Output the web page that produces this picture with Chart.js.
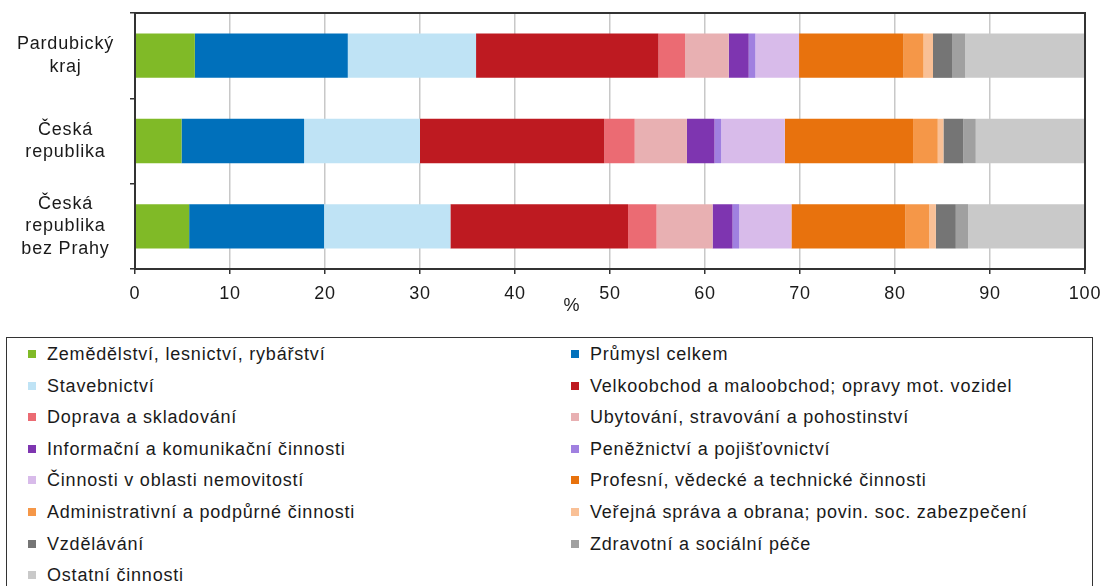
<!DOCTYPE html>
<html>
<head>
<meta charset="utf-8">
<script src="https://cdn.jsdelivr.net/npm/chart.js@4.4.1/dist/chart.umd.min.js"></script>
<style>
    body { margin: 0; background: #fff; width: 1105px; height: 586px; overflow: hidden; position: relative;
           font-family: "Liberation Sans", Arial, sans-serif; }
    #chart { position: absolute; left: 0; top: 0; }
    #legend { position: absolute; left: 6px; top: 337px; width: 1087px; height: 270px;
              border: 1.5px solid #333; box-sizing: border-box; }
    .item { position: absolute; font-size: 18px; letter-spacing: 0.8px; color: #1a1a1a;
            white-space: nowrap; line-height: 20px; }
    .item i { position: absolute; left: -19px; top: 6px; width: 8px; height: 8px; }
</style>
</head>
<body>
<canvas id="chart" width="1105" height="330"></canvas>
<div id="legend"></div>
<script>
// ── DATA ──
const categories = [['Pardubický', 'kraj'], ['Česká', 'republika'], ['Česká', 'republika', 'bez Prahy']];
const sectors = [
    'Zemědělství, lesnictví, rybářství', 'Průmysl celkem',
    'Stavebnictví', 'Velkoobchod a maloobchod; opravy mot. vozidel',
    'Doprava a skladování', 'Ubytování, stravování a pohostinství',
    'Informační a komunikační činnosti', 'Peněžnictví a pojišťovnictví',
    'Činnosti v oblasti nemovitostí', 'Profesní, vědecké a technické činnosti',
    'Administrativní a podpůrné činnosti', 'Veřejná správa a obrana; povin. soc. zabezpečení',
    'Vzdělávání', 'Zdravotní a sociální péče',
    'Ostatní činnosti'
];
const sectorColors = [
    '#80ba27', '#0070bb', '#bfe3f5', '#be1a21', '#eb6b73', '#e8b0b2', '#7e35b0', '#a080e0',
    '#d8bbea', '#e8720d', '#f59748', '#f9c096', '#757575', '#a0a0a0', '#c9c9c9'
];
const pardubickyKraj = [6.3, 16.1, 13.5, 19.2, 2.8, 4.6, 2.1, 0.7, 4.6, 11.0, 2.1, 1.0, 2.0, 1.4, 12.6];
const ceskaRepublika = [4.9, 12.9, 12.2, 19.4, 3.2, 5.5, 2.9, 0.7, 6.7, 13.5, 2.6, 0.6, 2.1, 1.3, 11.5];
const crBezPrahy     = [5.7, 14.2, 13.3, 18.7, 3.0, 5.9, 2.1, 0.7, 5.5, 12.0, 2.5, 0.7, 2.1, 1.3, 12.3];
const xMin = 0, xMax = 100, xStep = 10;
const axisTitle = '%';

const datasets = sectors.map((name, i) => ({
    label: name,
    data: [pardubickyKraj[i], ceskaRepublika[i], crBezPrahy[i]],
    backgroundColor: sectorColors[i],
    borderWidth: 0
}));

Chart.defaults.font.family = '"Liberation Sans", Arial, sans-serif';
Chart.defaults.font.size = 18;
Chart.defaults.color = '#1a1a1a';

// letter spacing is lost whenever the canvas is resized, so set it again
const spacing = {
    id: 'spacing',
    beforeUpdate(c) { c.ctx.letterSpacing = '0.8px'; },
    beforeLayout(c) { c.ctx.letterSpacing = '0.8px'; },
    beforeDraw(c) { c.ctx.letterSpacing = '0.8px'; }
};

// frame round the plot + axis title
const frame = {
    id: 'frame',
    afterDatasetsDraw(c) {
        const a = c.chartArea, ctx = c.ctx;
        ctx.save();
        ctx.strokeStyle = '#333';
        ctx.lineWidth = 2;
        ctx.strokeRect(a.left, a.top, a.right - a.left, a.bottom - a.top);
        ctx.restore();
    },
    afterDraw(c) {
        const ctx = c.ctx;
        ctx.save();
        ctx.fillStyle = '#1a1a1a';
        ctx.font = '18px "Liberation Sans", Arial, sans-serif';
        ctx.textAlign = 'center';
        ctx.textBaseline = 'middle';
        ctx.fillText(axisTitle, c.scales.x.getPixelForValue(46), 306);
        ctx.restore();
    }
};

new Chart(document.getElementById('chart').getContext('2d'), {
    type: 'bar',
    data: { labels: categories, datasets },
    options: {
        indexAxis: 'y',
        responsive: false,
        animation: false,
        layout: { padding: { top: 13, right: 20, left: 0, bottom: 0 } },
        datasets: { bar: { barPercentage: 0.52, categoryPercentage: 1 } },
        plugins: { legend: { display: false }, tooltip: { enabled: false } },
        scales: {
            x: {
                stacked: true, min: xMin, max: xMax,
                ticks: { stepSize: xStep, padding: 9, color: '#1a1a1a' },
                grid: { color: '#c8c8c8', lineWidth: 1.5, tickColor: '#333', tickLength: 5 },
                border: { color: '#333', width: 2 },
                afterFit(s) { s.height = 61; s.paddingLeft = 0; s.paddingRight = 0; }
            },
            y: {
                stacked: true,
                ticks: { crossAlign: 'center', padding: 16, color: '#1a1a1a', font: { lineHeight: 1.25 } },
                grid: { drawOnChartArea: false, tickColor: '#333', tickLength: 5, lineWidth: 1.5 },
                border: { color: '#333', width: 2 },
                afterFit(s) { s.width = 135; s.paddingTop = 0; s.paddingBottom = 0; }
            }
        }
    },
    plugins: [spacing, frame]
});

// ── LEGEND (two columns, row by row) ──
const legend = document.getElementById('legend');
sectors.forEach((name, i) => {
    const el = document.createElement('div');
    el.className = 'item';
    el.style.left = (i % 2 ? 583 : 40) + 'px';
    el.style.top = (6 + Math.floor(i / 2) * 31.6) + 'px';
    el.innerHTML = '<i style="background:' + sectorColors[i] + '"></i>' + name;
    legend.appendChild(el);
});
</script>
</body>
</html>
